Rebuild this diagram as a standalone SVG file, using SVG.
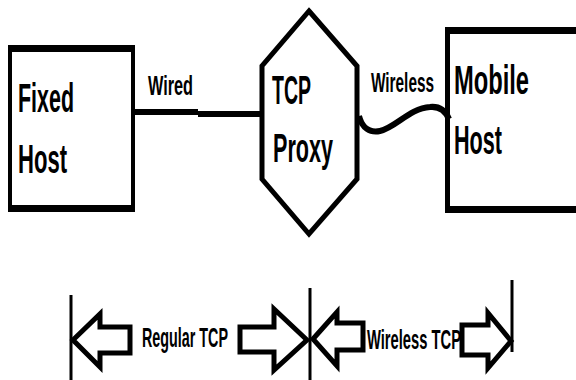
<svg xmlns="http://www.w3.org/2000/svg" width="576" height="380" viewBox="0 0 576 380">
  <style>
    .lbl { font-family: "Liberation Sans", Arial, sans-serif; font-weight: bold; fill: #000; }
    .big { font-size: 40px; }
    .small { font-size: 28px; }
    .frame { fill: #000; fill-rule: evenodd; }
    .hex { fill: #fff; stroke: #000; stroke-width: 5; stroke-linejoin: miter; }
    .wire { fill: none; stroke: #000; stroke-width: 6; }
    .block { fill: #fff; stroke: #000; stroke-width: 5; stroke-linejoin: miter; }
    .tick { stroke: #000; stroke-width: 3; }
  </style>
  <rect width="576" height="380" fill="#fff"/>

  <!-- links between the nodes -->
  <g id="connectors">
    <path class="wire" d="M135,112 H198 M198,114 H261" stroke-width="7"/>
    <path class="wire" d="M359,116 C362,128 370,133 380,131 C395,128 410,108 430,107 C440,106 446,112 449,119"/>
  </g>

  <!-- labels are drawn narrow: scaled 0.55 horizontally -->
  <g id="fixed-host">
    <path class="frame" d="M8,45 H135 V212 H8 Z M12,52 V205 H131 V52 Z"/>
    <text class="lbl big" transform="translate(18,112) scale(0.55,1)" textLength="101.8" lengthAdjust="spacingAndGlyphs">Fixed</text>
    <text class="lbl big" transform="translate(18,173) scale(0.55,1)" textLength="89.1" lengthAdjust="spacingAndGlyphs">Host</text>
  </g>

  <text id="wired-label" class="lbl small" transform="translate(148,95) scale(0.55,1)" textLength="81.8" lengthAdjust="spacingAndGlyphs">Wired</text>

  <g id="tcp-proxy">
    <polygon class="hex" points="309,11 357,66 357,179 309,234 262,179 262,66"/>
    <text class="lbl big" transform="translate(272,104) scale(0.55,1)" textLength="70.9" lengthAdjust="spacingAndGlyphs">TCP</text>
    <text class="lbl big" transform="translate(273,162) scale(0.55,1)" textLength="109.1" lengthAdjust="spacingAndGlyphs">Proxy</text>
  </g>

  <text id="wireless-label" class="lbl small" transform="translate(371,92) scale(0.55,1)" textLength="114.5" lengthAdjust="spacingAndGlyphs">Wireless</text>

  <g id="mobile-host">
    <path class="frame" d="M576,27 H445 V213 H576 V206 H450 V34 H576 Z"/>
    <text class="lbl big" transform="translate(454,94) scale(0.55,1)" textLength="136.4" lengthAdjust="spacingAndGlyphs">Mobile</text>
    <text class="lbl big" transform="translate(454,154) scale(0.55,1)" textLength="87.3" lengthAdjust="spacingAndGlyphs">Host</text>
  </g>

  <!-- span markers along the bottom -->
  <g id="spans">
    <line class="tick" x1="71" y1="295" x2="71" y2="380"/>
    <line class="tick" x1="310" y1="288" x2="310" y2="380"/>
    <line class="tick" x1="512" y1="280" x2="512" y2="352"/>

    <path class="block" d="M73,340 L100,314 V327 H130 V353 H100 V367 Z"/>
    <path class="block" d="M307,340 L274,309 V327 H240 V352 H274 V370 Z"/>
    <text class="lbl small" transform="translate(142,347) scale(0.55,1)" textLength="156.4" lengthAdjust="spacingAndGlyphs">Regular TCP</text>

    <path class="block" d="M313,339 L337,312 V323 H363 V350 H337 V366 Z"/>
    <path class="block" d="M511,341 L488,313 V325 H462 V355 H488 V368 Z"/>
    <text class="lbl small" transform="translate(367,349) scale(0.55,1)" textLength="170.9" lengthAdjust="spacingAndGlyphs">Wireless TCP</text>
  </g>
</svg>
